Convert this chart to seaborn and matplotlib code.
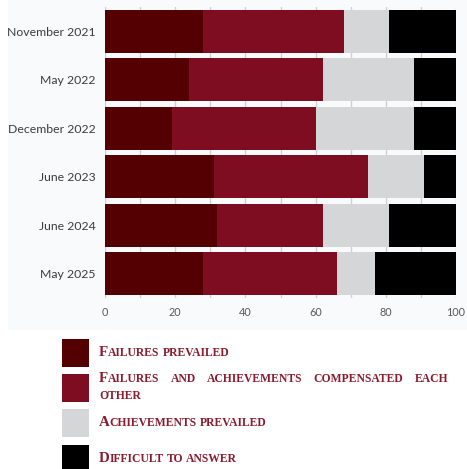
import numpy as np
import pandas as pd
import matplotlib
matplotlib.use("Agg")
import matplotlib.pyplot as plt
from matplotlib.patches import Rectangle
import seaborn as sns

# Survey waves and answer shares (percent)
waves = ["November 2021", "May 2022", "December 2022", "June 2023", "June 2024", "May 2025"]
failures = [28, 24, 19, 31, 32, 28]
compensated = [40, 38, 41, 44, 30, 38]
achievements = [13, 26, 28, 16, 19, 11]
difficult = [19, 12, 12, 9, 19, 23]

series_names = [
    "Failures prevailed",
    "Failures and achievements compensated each other",
    "Achievements prevailed",
    "Difficult to answer",
]
colors = ["#540003", "#7e0d22", "#d5d6d8", "#000000"]
x_ticks = [0, 20, 40, 60, 80, 100]

W, H = 467, 469
sns.set_theme(style="white")
plt.rcParams["font.family"] = ["Lato", "DejaVu Sans"]

fig = plt.figure(figsize=(W / 100, H / 100), dpi=100)
fig.patch.set_facecolor("white")

# light panel behind the chart
fig.patches.append(Rectangle((8 / W, 1 - 330 / H), (W - 8) / W, 330 / H,
                             transform=fig.transFigure, facecolor="#f8fafb",
                             edgecolor="none", zorder=-5))

ax = fig.add_axes([105 / W, 1 - 298 / H, 351 / W, 291 / H])
ax.set_zorder(2)
ax.set_facecolor("none")

df = pd.DataFrame({
    "wave": waves,
    "failures": failures,
    "compensated": compensated,
    "achievements": achievements,
    "difficult": difficult,
})
parts = ["failures", "compensated", "achievements", "difficult"]
cum = df[parts].cumsum(axis=1).assign(wave=df["wave"])

# stacked bars: draw cumulative totals from the longest down
for col, color in zip(reversed(parts), reversed(colors)):
    sns.barplot(data=cum, x=col, y="wave", orient="h",
                color=color, saturation=1, width=0.885, linewidth=0, ax=ax,
                zorder=3)

ax.set_xlim(0, 100)
ax.set_ylim(5.5, -0.5)
ax.set_xticks(x_ticks)
ax.set_xticklabels([str(t) for t in x_ticks])
ax.grid(False)
for gx in np.arange(0, 101, 10):
    ax.axvline(gx, color="#cfd0d2", lw=1.0, zorder=1)
for s in ax.spines.values():
    s.set_visible(False)
ax.set_xlabel("")
ax.set_ylabel("")
ax.tick_params(axis="y", length=0, pad=7, labelsize=8.8, labelcolor="#3c3c3c")
ax.tick_params(axis="x", which="both", length=0, pad=6.5, labelsize=7.8, labelcolor="#5a5a5a")

# legend with small-caps serif labels
legend_color = "#8a1b2e"
serif = "Liberation Serif"
big_size, small_size = 10.8, 8.4
renderer = fig.canvas.get_renderer()


def text_width(s, size):
    t = fig.text(0, 0, s, fontsize=size, fontfamily=serif, fontweight="bold")
    w = t.get_window_extent(renderer).width
    t.remove()
    return w


def word_segments(word, first):
    if first:
        return [(word[0].upper(), big_size), (word[1:].upper(), small_size)]
    return [(word.upper(), small_size)]


def draw_word(x_px, y_px, segs):
    for s, size in segs:
        if not s:
            continue
        fig.text(x_px / W, 1 - y_px / H, s, fontsize=size, fontfamily=serif,
                 fontweight="bold", color=legend_color, va="baseline", ha="left")
        x_px += text_width(s, size)
    return x_px


def seg_width(segs):
    return sum(text_width(s, size) for s, size in segs if s)


def draw_label(x0, baseline, label, justify_right=None, line_gap=17):
    words = label.split()
    segs = [word_segments(w, i == 0) for i, w in enumerate(words)]
    space = text_width(" ", small_size)
    lines, cur, cur_w = [], [], 0
    max_w = (justify_right - x0) if justify_right else 1e9
    for sg in segs:
        w = seg_width(sg)
        add = w if not cur else cur_w + space + w
        if cur and add > max_w:
            lines.append(cur)
            cur, cur_w = [sg], w
        else:
            cur.append(sg)
            cur_w = add
    lines.append(cur)
    for li, line in enumerate(lines):
        y = baseline + li * line_gap
        widths = [seg_width(sg) for sg in line]
        if justify_right and li < len(lines) - 1 and len(line) > 1:
            gap = (justify_right - x0 - sum(widths)) / (len(line) - 1)
        else:
            gap = space
        x = x0
        for sg, w in zip(line, widths):
            draw_word(x, y, sg)
            x += w + gap


sq_x, sq_w, sq_h = 62, 27, 28
rows = [339, 374, 409, 445]
baselines = [356, 382, 426, 462]
for name, color, top, base in zip(series_names, colors, rows, baselines):
    fig.patches.append(Rectangle((sq_x / W, 1 - (top + sq_h) / H), sq_w / W, sq_h / H,
                                 transform=fig.transFigure, facecolor=color,
                                 edgecolor="none", zorder=2))
    draw_label(99, base, name, justify_right=448)

fig.savefig("out.png", dpi=100)
